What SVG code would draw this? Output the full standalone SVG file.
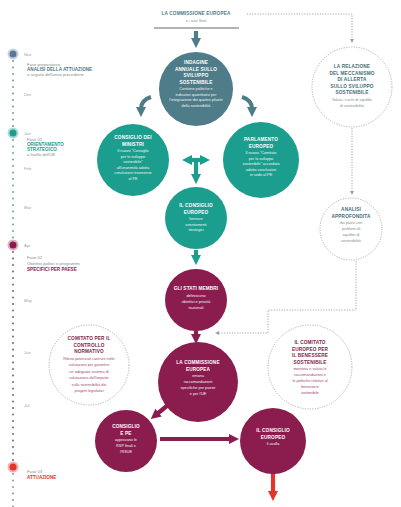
<svg xmlns="http://www.w3.org/2000/svg" width="401" height="507" viewBox="0 0 401 507">
<style>
text{font-family:"Liberation Sans",Arial,sans-serif;text-anchor:middle}
.t{font-weight:bold;font-size:4.7px;letter-spacing:0.15px;fill:#fff}
.b{font-size:3.8px;fill:#f2f2f2}
.ts{font-weight:bold;font-size:4.7px;letter-spacing:0.15px;fill:#3f6d79}
.bs{font-size:3.8px;fill:#7f8f94}
.tp{font-weight:bold;font-size:4.7px;letter-spacing:0.15px;fill:#7d1c47}
.bp{font-size:3.8px;fill:#a54a73}
.dash{fill:#fff;stroke:#a8a8a8;stroke-width:0.9;stroke-dasharray:1.2 1.3}
.conn{fill:none;stroke:#a0a0a0;stroke-width:0.9;stroke-dasharray:1.2 1.4}
.mon{font-size:4.2px;fill:#9aa6aa;text-anchor:start}
.ph{font-size:4.2px;fill:#8a8a8a;text-anchor:start}
.phb{font-weight:bold;font-size:4.6px;text-anchor:start}
.arr{fill:none;stroke-width:4.2}
</style>
<defs>
<marker id="hs" viewBox="0 0 10 10" refX="2" refY="5" markerWidth="2.4" markerHeight="2.6" orient="auto"><path d="M0,0L10,5L0,10z" fill="#4e7c88"/></marker>
<marker id="ht" viewBox="0 0 10 10" refX="2" refY="5" markerWidth="2.4" markerHeight="2.6" orient="auto"><path d="M0,0L10,5L0,10z" fill="#1c9e8f"/></marker>
<marker id="hp" viewBox="0 0 10 10" refX="2" refY="5" markerWidth="2.4" markerHeight="2.6" orient="auto"><path d="M0,0L10,5L0,10z" fill="#8a1d4e"/></marker>
<marker id="hr" viewBox="0 0 10 10" refX="2" refY="5" markerWidth="2.4" markerHeight="2.6" orient="auto"><path d="M0,0L10,5L0,10z" fill="#e3342a"/></marker>
<marker id="hg" viewBox="0 0 10 10" refX="5" refY="5" markerWidth="4" markerHeight="4" markerUnits="userSpaceOnUse" orient="auto"><path d="M0,0L10,5L0,10z" fill="#a0a0a0"/></marker>
</defs>

<g id="timeline">
<g stroke-linecap="round" stroke-width="1.8" stroke-dasharray="0 6.5" fill="none">
<line x1="13" y1="61" x2="13" y2="127" stroke="#6c8aa0"/>
<line x1="13" y1="140" x2="13" y2="239" stroke="#5f9f97"/>
<line x1="13" y1="252" x2="13" y2="461" stroke="#7c4a64"/>
<line x1="13" y1="474" x2="13" y2="507" stroke="#8a8a8a"/>
</g>
<circle cx="13" cy="54" r="5.5" fill="#c9d3df"/><circle cx="13" cy="54" r="3.5" fill="#5a7896"/>
<circle cx="13" cy="133" r="5.5" fill="#a8dcd5"/><circle cx="13" cy="133" r="3.5" fill="#1c9e8f"/>
<circle cx="13" cy="245" r="5.5" fill="#dcb0c4"/><circle cx="13" cy="245" r="3.5" fill="#8a1d4e"/>
<circle cx="13" cy="467" r="5.5" fill="#f4b0aa"/><circle cx="13" cy="467" r="3.5" fill="#e3342a"/>
<text class="mon" x="24" y="55.5">Nov</text>
<text class="mon" x="24" y="95.5">Dec</text>
<text class="mon" x="24" y="134.5">Jan</text>
<text class="mon" x="24" y="169.5">Feb</text>
<text class="mon" x="24" y="208.5">Mar</text>
<text class="mon" x="24" y="246.5">Apr</text>
<text class="mon" x="24" y="301.5">May</text>
<text class="mon" x="24" y="353.5">Jun</text>
<text class="mon" x="24" y="406.5">Jul</text>
<text class="ph" x="27" y="66">Fase preparatoria</text>
<text class="phb" x="27" y="71" fill="#4e7c88">ANALISI DELLA ATTUAZIONE</text>
<text class="ph" x="27" y="76">a seguito dell'anno precedente</text>
<text class="ph" x="27" y="141">Fase 01</text>
<text class="phb" x="27" y="146" fill="#1c9e8f">ORIENTAMENTO</text>
<text class="phb" x="27" y="151" fill="#1c9e8f">STRATEGICO</text>
<text class="ph" x="27" y="156">a livello dell'UE</text>
<text class="ph" x="27" y="259">Fase 02</text>
<text class="ph" x="27" y="265">Obiettivi politici e programmi</text>
<text class="phb" x="27" y="271" fill="#8a1d4e">SPECIFICI PER PAESE</text>
<text class="ph" x="27" y="473">Fase 03</text>
<text class="phb" x="27" y="479" fill="#e3342a">ATTUAZIONE</text>
</g>

<g id="commissione-top">
<text x="196" y="15" style="font-weight:bold;font-size:4.7px;letter-spacing:0.15px;fill:#4e7c88">LA COMMISSIONE EUROPEA</text>
<text x="196" y="21.5" style="font-size:3.8px;fill:#7f8f94">e i suoi Stati</text>
<line x1="154" y1="28" x2="239" y2="28" stroke="#9a9a9a" stroke-width="1.4"/>
</g>

<g id="connectors">
<path class="arr" stroke="#4e7c88" d="M196,31V40" marker-end="url(#hs)"/>
<path class="arr" stroke="#4e7c88" d="M151,97Q141,100 141,109" marker-end="url(#hs)"/>
<path class="arr" stroke="#4e7c88" d="M242,97Q252,100 252,109" marker-end="url(#hs)"/>
<path class="arr" stroke="#1c9e8f" d="M191,160H190" marker-end="url(#ht)"/>
<path class="arr" stroke="#1c9e8f" d="M190,160H202" marker-end="url(#ht)"/>
<path class="arr" stroke="#1c9e8f" d="M196,160V176" marker-end="url(#ht)"/>
<path class="arr" stroke="#1c9e8f" d="M196,250V257" marker-end="url(#ht)"/>
<path class="arr" stroke="#8a1d4e" d="M196,331V336" marker-end="url(#hp)"/>
<path class="arr" stroke="#8a1d4e" d="M168,405L157,414" marker-end="url(#hp)"/>
<path class="arr" stroke="#8a1d4e" stroke-width="4.8" d="M160,439H231" marker-end="url(#hp)"/>
<path class="arr" stroke="#e3342a" d="M273,473V493" marker-end="url(#hr)"/>
<path class="conn" d="M247,14H352V41" marker-end="url(#hg)"/>
<path class="conn" d="M352,128V193" marker-end="url(#hg)"/>
<path class="conn" d="M356,261V310H268V333H217" marker-end="url(#hg)"/>
</g>

<g id="indagine">
<circle cx="196" cy="89" r="37" fill="#4e7c88"/>
<text class="t" x="196" y="64">INDAGINE</text>
<text class="t" x="196" y="70.5">ANNUALE SULLO</text>
<text class="t" x="196" y="77">SVILUPPO</text>
<text class="t" x="196" y="83.5">SOSTENIBILE</text>
<text class="b" x="196" y="90">Contiene politiche e</text>
<text class="b" x="196" y="95.5">indicatori quantitativi per</text>
<text class="b" x="196" y="101">l'integrazione dei quattro pilastri</text>
<text class="b" x="196" y="106.5">della sostenibilità</text>
</g>

<g id="relazione">
<circle class="dash" cx="352" cy="87" r="40"/>
<text class="ts" x="352" y="68">LA RELAZIONE</text>
<text class="ts" x="352" y="74.5">DEL MECCANISMO</text>
<text class="ts" x="352" y="81">DI ALLERTA</text>
<text class="ts" x="352" y="87.5">SULLO SVILUPPO</text>
<text class="ts" x="352" y="94">SOSTENIBILE</text>
<text class="bs" x="352" y="101">Valuta i rischi di squilibri</text>
<text class="bs" x="352" y="107">di sostenibilità</text>
</g>

<g id="consiglio-ministri">
<circle cx="133" cy="160" r="36" fill="#1c9e8f"/>
<text class="t" x="133" y="139">CONSIGLIO DEI</text>
<text class="t" x="133" y="145.5">MINISTRI</text>
<text class="b" x="133" y="152">Il nuovo "Consiglio</text>
<text class="b" x="133" y="157.5">per lo sviluppo</text>
<text class="b" x="133" y="163">sostenibile"</text>
<text class="b" x="133" y="168.5">all'unanimità adotta</text>
<text class="b" x="133" y="174">conclusioni trasmesse</text>
<text class="b" x="133" y="179.5">al PE</text>
</g>

<g id="parlamento">
<circle cx="261" cy="160" r="38" fill="#1c9e8f"/>
<text class="t" x="261" y="141">PARLAMENTO</text>
<text class="t" x="261" y="147.5">EUROPEO</text>
<text class="b" x="261" y="154">Il nuovo "Comitato</text>
<text class="b" x="261" y="159.5">per lo sviluppo</text>
<text class="b" x="261" y="165">sostenibile" accordato</text>
<text class="b" x="261" y="170.5">adotta conclusioni</text>
<text class="b" x="261" y="176">in sede al PE</text>
</g>

<g id="consiglio-europeo-1">
<circle cx="196" cy="218" r="31" fill="#1c9e8f"/>
<text class="t" x="196" y="207">IL CONSIGLIO</text>
<text class="t" x="196" y="213.5">EUROPEO</text>
<text class="b" x="196" y="220">fornisce</text>
<text class="b" x="196" y="225.5">orientamenti</text>
<text class="b" x="196" y="231">strategici</text>
</g>

<g id="analisi">
<circle class="dash" cx="351" cy="229" r="31"/>
<text class="ts" x="351" y="211">ANALISI</text>
<text class="ts" x="351" y="217.5">APPROFONDITA</text>
<text class="bs" x="351" y="224">dei paesi con</text>
<text class="bs" x="351" y="230">problemi di</text>
<text class="bs" x="351" y="236">squilibri di</text>
<text class="bs" x="351" y="242">sostenibilità</text>
</g>

<g id="stati-membri">
<circle cx="196" cy="300" r="31" fill="#8a1d4e"/>
<text class="t" x="196" y="290">GLI STATI MEMBRI</text>
<text class="b" x="196" y="297">definiscono</text>
<text class="b" x="196" y="303">obiettivi e priorità</text>
<text class="b" x="196" y="309">nazionali</text>
</g>

<g id="comitato-controllo">
<circle class="dash" cx="89" cy="365" r="40"/>
<text class="tp" x="89" y="340">COMITATO PER IL</text>
<text class="tp" x="89" y="346.5">CONTROLLO</text>
<text class="tp" x="89" y="353">NORMATIVO</text>
<text class="bp" x="89" y="359.5">Rileva potenziali carenze nelle</text>
<text class="bp" x="89" y="366">valutazioni per garantire</text>
<text class="bp" x="89" y="372.5">un adeguato sistema di</text>
<text class="bp" x="89" y="379">valutazione dell'impatto</text>
<text class="bp" x="89" y="385.5">sulla sostenibilità dei</text>
<text class="bp" x="89" y="392">progetti legislativi</text>
</g>

<g id="commissione">
<circle cx="198" cy="382" r="40" fill="#8a1d4e"/>
<text class="t" x="198" y="364">LA COMMISSIONE</text>
<text class="t" x="198" y="370.5">EUROPEA</text>
<text class="b" x="198" y="377">emana</text>
<text class="b" x="198" y="383">raccomandazioni</text>
<text class="b" x="198" y="389">specifiche per paese</text>
<text class="b" x="198" y="395">e per l'UE</text>
</g>

<g id="comitato-benessere">
<circle class="dash" cx="310" cy="367" r="42"/>
<text class="tp" x="310" y="344">IL COMITATO</text>
<text class="tp" x="310" y="350.5">EUROPEO PER</text>
<text class="tp" x="310" y="357">IL BENESSERE</text>
<text class="tp" x="310" y="363.5">SOSTENIBILE</text>
<text class="bp" x="310" y="370">monitora e valuta le</text>
<text class="bp" x="310" y="376">raccomandazioni e</text>
<text class="bp" x="310" y="382">le politiche relative al</text>
<text class="bp" x="310" y="388">benessere</text>
<text class="bp" x="310" y="394">sostenibile</text>
</g>

<g id="consiglio-pe">
<circle cx="126" cy="441" r="31" fill="#8a1d4e"/>
<text class="t" x="126" y="428">CONSIGLIO</text>
<text class="t" x="126" y="434.5">E PE</text>
<text class="b" x="126" y="441">approvano le</text>
<text class="b" x="126" y="447">RSP finali e</text>
<text class="b" x="126" y="453">l'RSUE</text>
</g>

<g id="consiglio-europeo-2">
<circle cx="273" cy="441" r="33" fill="#8a1d4e"/>
<text class="t" x="273" y="432">IL CONSIGLIO</text>
<text class="t" x="273" y="438.5">EUROPEO</text>
<text class="b" x="273" y="445">li avalla</text>
</g>
</svg>
